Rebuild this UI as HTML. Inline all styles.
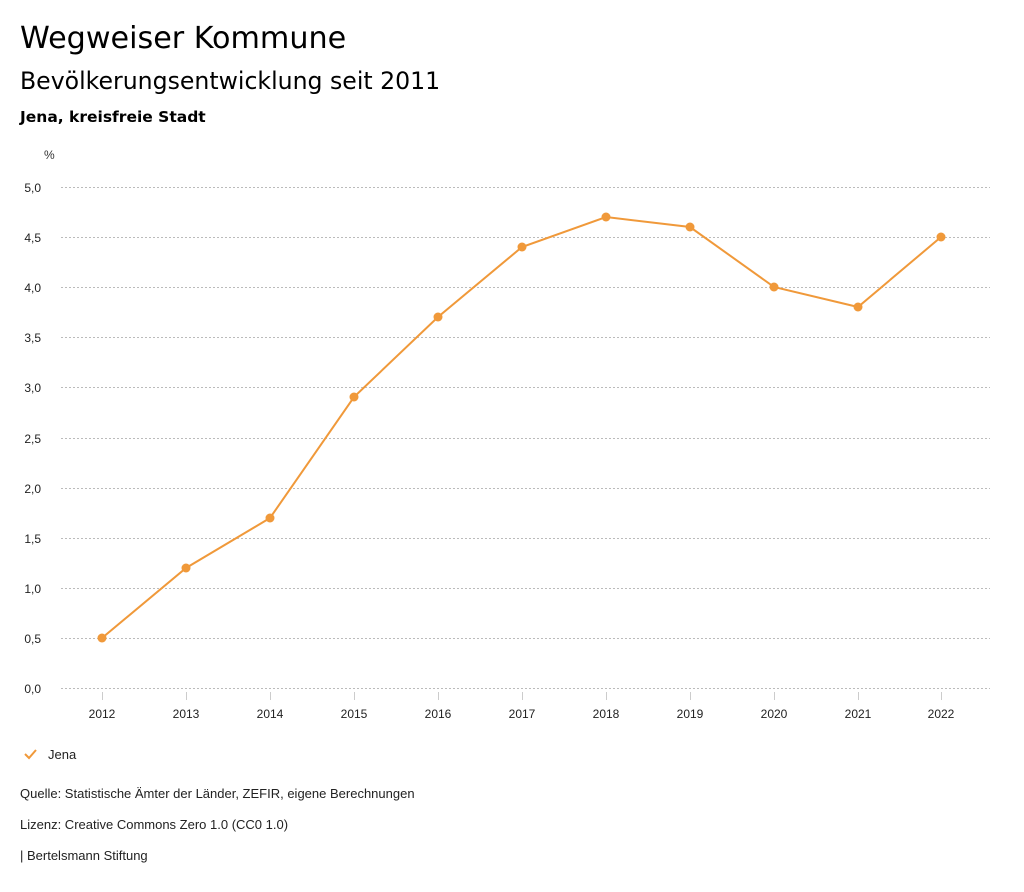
<!DOCTYPE html>
<html><head><meta charset="utf-8"><style>
body{margin:0;background:#fff;width:1024px;height:888px;overflow:hidden;font-family:"DejaVu Sans","Liberation Sans",sans-serif;color:#000}
svg text{font-family:"Liberation Sans",sans-serif}
</style></head><body>
<svg width="1024" height="888" viewBox="0 0 1024 888" xmlns="http://www.w3.org/2000/svg">
<text x="20" y="48" font-size="30.2" style="font-family:'DejaVu Sans',sans-serif">Wegweiser Kommune</text>
<text x="20" y="89" font-size="23.6" style="font-family:'DejaVu Sans',sans-serif">Bevölkerungsentwicklung seit 2011</text>
<text x="20" y="122" font-size="15.5" font-weight="bold" style="font-family:'DejaVu Sans',sans-serif">Jena, kreisfreie Stadt</text>
<text x="44" y="159" font-size="12" fill="#333">%</text>
<g stroke="#bbb" stroke-width="1" stroke-dasharray="2,2">
<line x1="61" y1="187.5" x2="990" y2="187.5"/><line x1="61" y1="237.5" x2="990" y2="237.5"/>
<line x1="61" y1="287.5" x2="990" y2="287.5"/><line x1="61" y1="337.5" x2="990" y2="337.5"/>
<line x1="61" y1="387.5" x2="990" y2="387.5"/><line x1="61" y1="438.5" x2="990" y2="438.5"/>
<line x1="61" y1="488.5" x2="990" y2="488.5"/><line x1="61" y1="538.5" x2="990" y2="538.5"/>
<line x1="61" y1="588.5" x2="990" y2="588.5"/><line x1="61" y1="638.5" x2="990" y2="638.5"/>
<line x1="61" y1="688.5" x2="990" y2="688.5"/>
</g>
<g font-size="12" fill="#222" text-anchor="end">
<text x="41" y="192">5,0</text><text x="41" y="242">4,5</text><text x="41" y="292">4,0</text>
<text x="41" y="342">3,5</text><text x="41" y="392">3,0</text><text x="41" y="443">2,5</text>
<text x="41" y="493">2,0</text><text x="41" y="543">1,5</text><text x="41" y="593">1,0</text>
<text x="41" y="643">0,5</text><text x="41" y="693">0,0</text>
</g>
<g stroke="#ccc"><line x1="102.5" y1="692" x2="102.5" y2="700"/><line x1="186.5" y1="692" x2="186.5" y2="700"/><line x1="270.5" y1="692" x2="270.5" y2="700"/><line x1="354.5" y1="692" x2="354.5" y2="700"/><line x1="438.5" y1="692" x2="438.5" y2="700"/><line x1="522.5" y1="692" x2="522.5" y2="700"/><line x1="606.5" y1="692" x2="606.5" y2="700"/><line x1="690.5" y1="692" x2="690.5" y2="700"/><line x1="774.5" y1="692" x2="774.5" y2="700"/><line x1="858.5" y1="692" x2="858.5" y2="700"/><line x1="941.5" y1="692" x2="941.5" y2="700"/></g>
<g font-size="12" fill="#222" text-anchor="middle">
<text x="102" y="718">2012</text><text x="186" y="718">2013</text><text x="270" y="718">2014</text><text x="354" y="718">2015</text><text x="438" y="718">2016</text><text x="522" y="718">2017</text><text x="606" y="718">2018</text><text x="690" y="718">2019</text><text x="774" y="718">2020</text><text x="858" y="718">2021</text><text x="941" y="718">2022</text>
</g>
<polyline fill="none" stroke="#f0993a" stroke-width="2" points="102,638 186,568 270,518 354,397 438,317 522,247 606,217 690,227 774,287 858,307 941,237"/>
<g fill="#f0993a"><circle cx="102" cy="638" r="4.5"/><circle cx="186" cy="568" r="4.5"/><circle cx="270" cy="518" r="4.5"/><circle cx="354" cy="397" r="4.5"/><circle cx="438" cy="317" r="4.5"/><circle cx="522" cy="247" r="4.5"/><circle cx="606" cy="217" r="4.5"/><circle cx="690" cy="227" r="4.5"/><circle cx="774" cy="287" r="4.5"/><circle cx="858" cy="307" r="4.5"/><circle cx="941" cy="237" r="4.5"/></g>
<polyline points="25,754 29,758 36,750" fill="none" stroke="#f0993a" stroke-width="2"/>
<text x="48" y="759" font-size="13" fill="#222">Jena</text>
<text x="20" y="798" font-size="13" fill="#222">Quelle: Statistische Ämter der Länder, ZEFIR, eigene Berechnungen</text>
<text x="20" y="829" font-size="13" fill="#222">Lizenz: Creative Commons Zero 1.0 (CC0 1.0)</text>
<text x="20" y="860" font-size="13" fill="#222">| Bertelsmann Stiftung</text>
</svg>
</body></html>
